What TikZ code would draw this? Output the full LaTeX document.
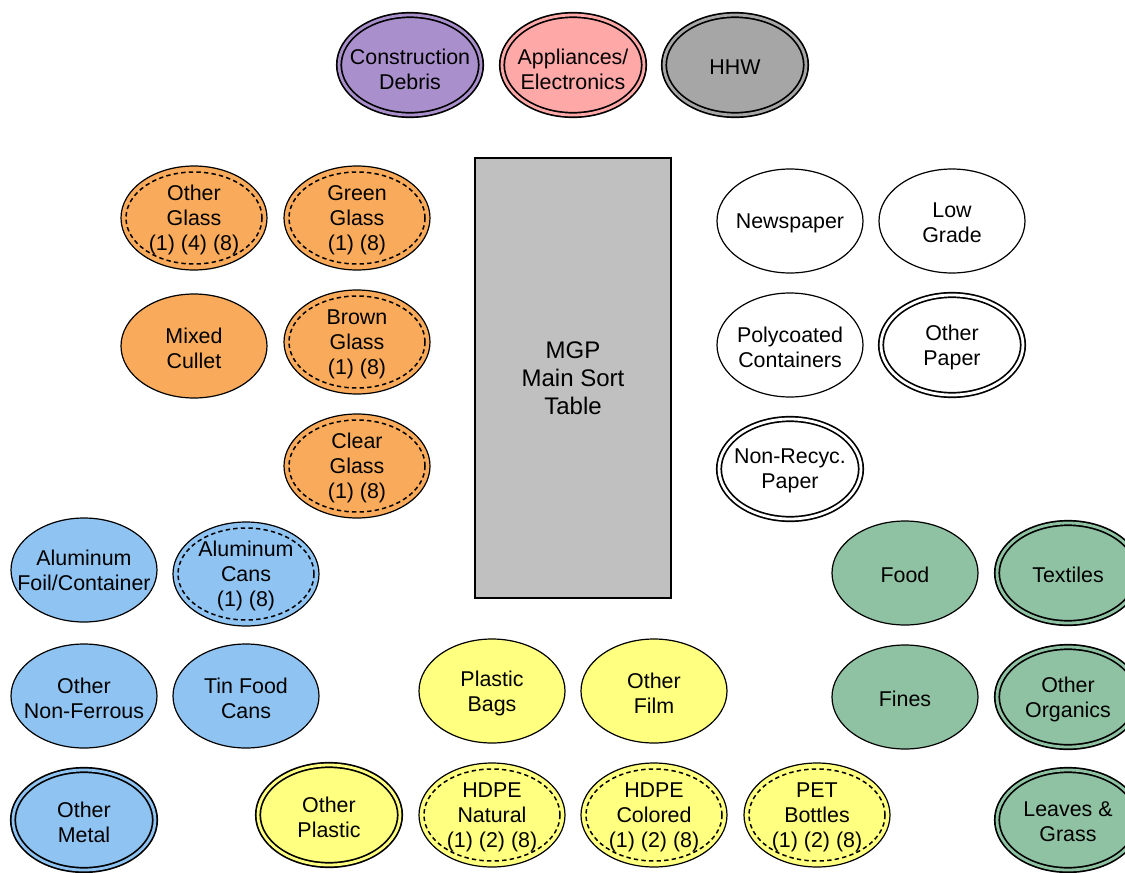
\documentclass[tikz,border=0pt]{standalone}
\usepackage{fontspec}
\setmainfont{Liberation Sans}
\usetikzlibrary{shapes.geometric}

\definecolor{debriscol}{HTML}{A98FCB}
\definecolor{appliancecol}{HTML}{FFA8A8}
\definecolor{hhwcol}{HTML}{A6A6A6}
\definecolor{glasscol}{HTML}{F9AB5B}
\definecolor{metalcol}{HTML}{8EC3F2}
\definecolor{plasticcol}{HTML}{FFFF80}
\definecolor{organiccol}{HTML}{8FC2A2}
\definecolor{tablecol}{HTML}{C0C0C0}

\tikzset{
  bin/.style={ellipse, draw, line width=0.6pt, minimum width=73pt, minimum height=52pt, inner sep=0pt},
  plainbin/.style={bin, fill=#1},
  dblbin/.style={bin, fill=#1, double=#1, double distance=1.4pt, line width=0.85pt,
    minimum width=71pt, minimum height=50pt},
  dashbin/.style={bin, fill=#1,
    path picture={\draw[line width=0.75pt, dash pattern=on 2.2pt off 1.6pt]
      (path picture bounding box.center) ellipse [x radius=34pt, y radius=23pt];}},
  txt/.style={align=center, inner sep=0pt, yshift=-1pt, font=\fontsize{10.7}{12.5}\selectfont}
}

\begin{document}
\begin{tikzpicture}[x=0.5pt, y=-0.5pt]
    \useasboundingbox (0,0) rectangle (1125,873);
    % the sort table
    \node[draw, fill=tablecol, line width=0.6pt, minimum width=98pt, minimum height=220pt,
          align=center, font=\fontsize{12}{14}\selectfont] (mgp) at (573,378) {MGP\\Main Sort\\Table};
    % top row
    \node[dblbin=debriscol, label={[txt, yshift=-1pt]center:{Construction\\Debris}}] (debris) at (410,65) {};
    \node[dblbin=appliancecol, label={[txt, yshift=-1pt]center:{Appliances/\\Electronics}}] (appliances) at (573,65) {};
    \node[dblbin=hhwcol, label={[txt]center:{HHW}}] (hhw) at (735,65) {};
    % glass
    \node[dashbin=glasscol, label={[txt]center:{Other\\Glass\\(1) (4) (8)}}] (otherglass) at (194,218) {};
    \node[dashbin=glasscol, label={[txt]center:{Green\\Glass\\(1) (8)}}] (greenglass) at (357,218) {};
    \node[plainbin=glasscol, label={[txt]center:{Mixed\\Cullet}}] (cullet) at (194,346) {};
    \node[dashbin=glasscol, label={[txt]center:{Brown\\Glass\\(1) (8)}}] (brownglass) at (357,342) {};
    \node[dashbin=glasscol, label={[txt]center:{Clear\\Glass\\(1) (8)}}] (clearglass) at (357,466) {};
    % paper
    \node[plainbin=white, label={[txt]center:{Newspaper}}] (newspaper) at (790,221) {};
    \node[plainbin=white, label={[txt]center:{Low\\Grade}}] (lowgrade) at (952,221) {};
    \node[plainbin=white, label={[txt]center:{Polycoated\\Containers}}] (polycoated) at (790,345) {};
    \node[dblbin=white, label={[txt]center:{Other\\Paper}}] (otherpaper) at (952,345) {};
    \node[dblbin=white, label={[txt]center:{Non-Recyc.\\Paper}}] (nonrecyc) at (790,469) {};
    % metal
    \node[plainbin=metalcol, label={[txt, yshift=1pt]center:{Aluminum\\Foil/Container}}] (foil) at (84,570) {};
    \node[dashbin=metalcol, label={[txt]center:{Aluminum\\Cans\\(1) (8)}}] (alcans) at (246,574) {};
    \node[plainbin=metalcol, label={[txt]center:{Other\\Non-Ferrous}}] (nonferrous) at (84,696) {};
    \node[plainbin=metalcol, label={[txt]center:{Tin Food\\Cans}}] (tincans) at (246,696) {};
    \node[dblbin=metalcol, label={[txt]center:{Other\\Metal}}] (othermetal) at (84,820) {};
    % plastic
    \node[plainbin=plasticcol, label={[txt]center:{Plastic\\Bags}}] (bags) at (492,691) {};
    \node[plainbin=plasticcol, label={[txt]center:{Other\\Film}}] (film) at (654,691) {};
    \node[dblbin=plasticcol, label={[txt]center:{Other\\Plastic}}] (otherplastic) at (329,815) {};
    \node[dashbin=plasticcol, label={[txt]center:{HDPE\\Natural\\(1) (2) (8)}}] (hdpenat) at (492,815) {};
    \node[dashbin=plasticcol, label={[txt]center:{HDPE\\Colored\\(1) (2) (8)}}] (hdpecol) at (654,815) {};
    \node[dashbin=plasticcol, label={[txt]center:{PET\\Bottles\\(1) (2) (8)}}] (pet) at (817,815) {};
    % organics
    \node[plainbin=organiccol, label={[txt]center:{Food}}] (food) at (905,573) {};
    \node[dblbin=organiccol, label={[txt]center:{Textiles}}] (textiles) at (1068,573) {};
    \node[plainbin=organiccol, label={[txt]center:{Fines}}] (fines) at (905,697) {};
    \node[dblbin=organiccol, label={[txt]center:{Other\\Organics}}] (otherorganics) at (1068,697) {};
    \node[dblbin=organiccol, label={[txt]center:{Leaves \&\\Grass}}] (leaves) at (1068,820) {};
\end{tikzpicture}
\end{document}
